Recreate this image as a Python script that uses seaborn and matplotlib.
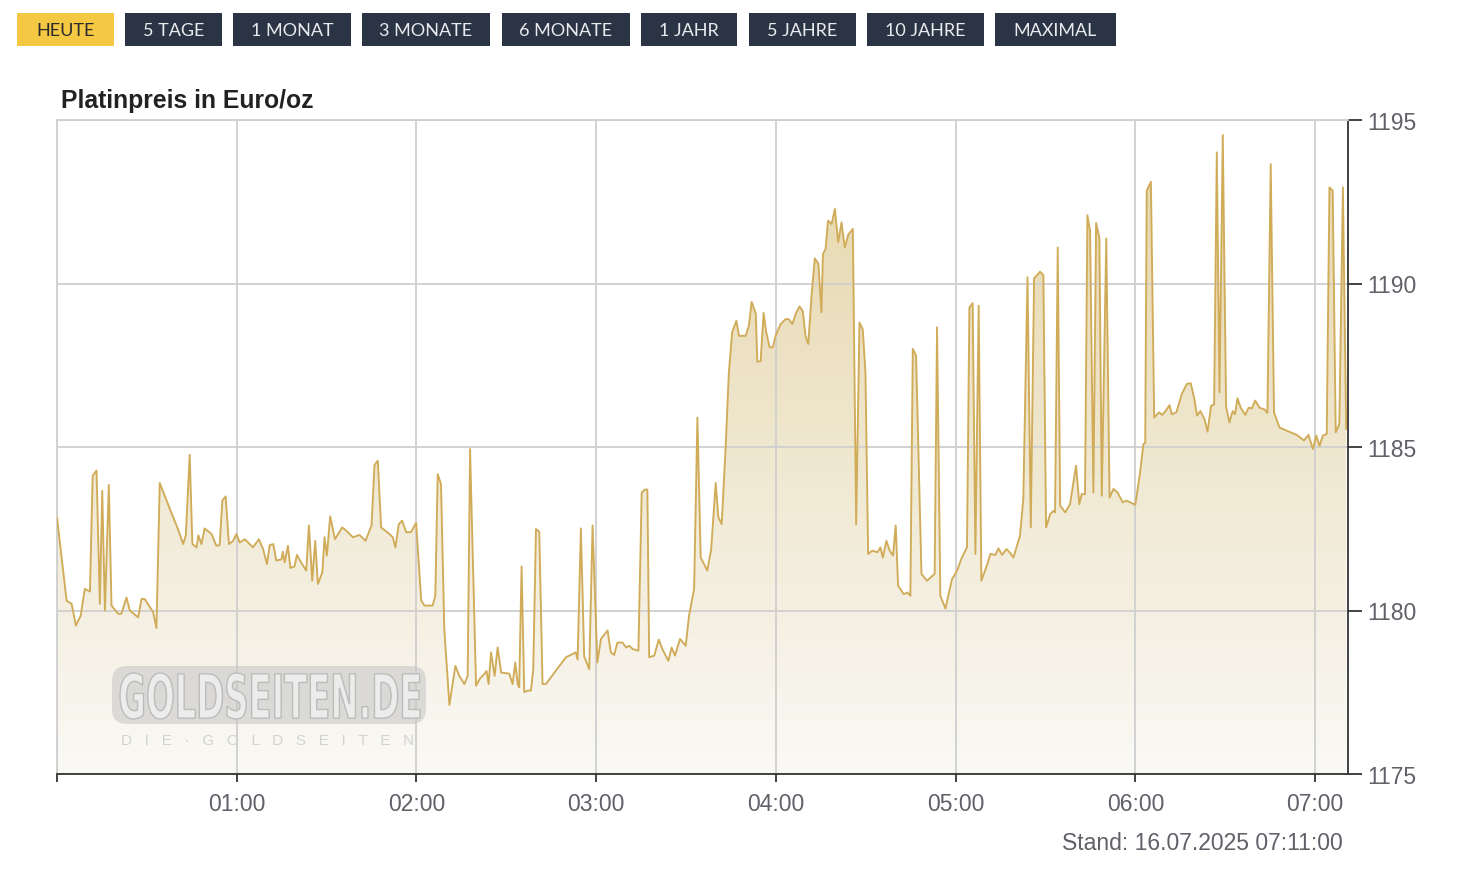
import matplotlib
matplotlib.use("Agg")
import matplotlib.pyplot as plt
import numpy as np
import pandas as pd
import seaborn as sns
from matplotlib.colors import LinearSegmentedColormap
from matplotlib.patches import FancyBboxPatch, Rectangle, PathPatch
from matplotlib.textpath import TextPath
from matplotlib.font_manager import FontProperties
from matplotlib.transforms import Affine2D

# -------------------------------
# Daten: Platinpreis heute (Minuten seit 00:00, Euro/oz)
# -------------------------------
minute = [
    0, 3.2, 4.9, 6.3, 7.9, 9.3, 11, 11.9, 13.2, 14.3, 15.1, 16, 17.3, 18.2, 20.4, 21.5,
    23.2, 24.3, 27.1, 28.2, 29.3, 32.1, 33.2, 34.3, 37.7, 40.4, 42.1, 43, 44.3, 45.2,
    46.6, 47.2, 48.2, 49.3, 51.6, 53.2, 54.3, 55.2, 56.3, 57.4, 58.8, 59.9, 61, 62.7,
    65.4, 67.4, 68.8, 70.1, 71, 72.2, 73.2, 74.9, 75.4, 76, 77.1, 77.9, 79.3, 80.1,
    81.5, 83.2, 84.1, 85.2, 86.2, 87.1, 88.6, 89.3, 90.1, 91.2, 92.8, 95.2, 96.6,
    98.8, 101, 103, 105, 106, 107.1, 108.2, 111, 112.1, 113, 114.1, 115.2, 116.6,
    118.2, 119.9, 121.6, 122.7, 125.4, 126.3, 127.1, 128.2, 129.3, 131, 133, 134.3,
    136, 137.1, 137.9, 139.9, 141.2, 142.6, 143.4, 144.1, 144.9, 146.1, 147.1, 148.3,
    151, 152.1, 153, 153.8, 154.3, 155.1, 156, 157.1, 158.2, 159, 159.9, 161, 162.1,
    163.2, 169.9, 171.5, 173.2, 173.8, 174.9, 176, 177.7, 178.8, 180.4, 181.6, 183.8,
    184.9, 186, 187.1, 188.8, 190, 191.1, 192.2, 194.1, 195.2, 196.3, 197.1, 197.7,
    199.4, 200.9, 202.2, 204.1, 205.2, 206.3, 208, 209.9, 211, 212.7, 213.8, 214.9,
    217.1, 218.4, 219.9, 220.8, 221.9, 223.2, 224.3, 225.4, 226.8, 227.7, 229.9, 231,
    231.9, 233.3, 233.8, 234.9, 235.9, 236.8, 237.9, 239, 239.9, 241.6, 243.2, 244.3,
    245.5, 246.6, 247.9, 249, 249.9, 250.8, 251.9, 253, 254.2, 255.2, 255.7, 256.6,
    257.4, 258.6, 259.7, 260.8, 261.9, 263, 264.2, 265.7, 266.8, 267.9, 269, 269.9,
    270.8, 272.2, 273.9, 274.9, 275.7, 276.9, 278, 279.1, 280, 280.8, 282.7, 283.9,
    284.9, 285.7, 286.8, 288.6, 290.4, 293, 293.8, 294.9, 296.6, 298.8, 300.4, 302.1,
    303.8, 304.6, 305.7, 306.6, 307.7, 308.6, 310.6, 311.6, 313.3, 314.3, 315.5, 317,
    318.3, 319.3, 321.5, 322.6, 324, 325.1, 326.2, 328.2, 329.3, 330.2, 331.6, 332.7,
    333.2, 334.1, 334.9, 336.6, 338.2, 340.2, 341.3, 342.1, 343.2, 344, 344.9, 346,
    346.9, 348, 348.8, 350.3, 351.4, 352.7, 354.1, 355.8, 357.1, 358.3, 360, 361.6,
    362.7, 363.3, 363.8, 365.2, 366.3, 367.9, 369, 370.1, 371.4, 372.2, 373.7, 375.5,
    377.2, 378.5, 379.7, 380.6, 381.7, 383.1, 384.1, 385.3, 386.3, 387.2, 388.1, 389.2,
    390.3, 391.4, 392.5, 393.3, 394.1, 395.2, 396.7, 397.8, 398.9, 400, 401.5, 403.1,
    404.1, 405.2, 406.3, 408.1, 410.5, 413.9, 416.3, 417.8, 419.3, 420.4, 421.5, 422.6,
    423.9, 424.8, 425.9, 426.9, 428.1, 429.3, 430.4,
]
price = [
    1182.85, 1180.3, 1180.2, 1179.54, 1179.84, 1180.66, 1180.58, 1184.12, 1184.28, 1180.2,
    1183.66, 1180.0, 1183.84, 1180.15, 1179.9, 1179.9, 1180.4, 1180.0, 1179.79, 1180.35,
    1180.35, 1179.95, 1179.46, 1183.9, 1183.1, 1182.49, 1182.03, 1182.3, 1184.76, 1182.03,
    1181.93, 1182.3, 1182.03, 1182.51, 1182.34, 1181.98, 1182.0, 1183.36, 1183.49, 1182.03,
    1182.13, 1182.34, 1182.08, 1182.18, 1181.93, 1182.18, 1181.88, 1181.42, 1182.0, 1182.03,
    1181.53, 1181.56, 1181.8, 1181.47, 1181.98, 1181.3, 1181.35, 1181.7, 1181.47, 1181.22,
    1182.6, 1180.91, 1182.13, 1180.81, 1181.17, 1182.24, 1181.68, 1182.88, 1182.18, 1182.54,
    1182.44, 1182.24, 1182.31, 1182.13, 1182.6, 1184.45, 1184.58, 1182.54, 1182.34, 1182.24,
    1181.93, 1182.64, 1182.75, 1182.39, 1182.4, 1182.68, 1180.3, 1180.15, 1180.15, 1180.45,
    1184.17, 1183.87, 1179.43, 1177.11, 1178.31, 1178.0, 1177.75, 1178.0, 1184.94, 1177.7,
    1177.92, 1178.05, 1178.15, 1177.75, 1178.72, 1178.0, 1178.87, 1178.1, 1178.07, 1177.75,
    1178.41, 1177.75, 1177.65, 1181.35, 1177.5, 1177.55, 1177.55, 1178.2, 1182.49, 1182.41,
    1177.75, 1177.75, 1178.57, 1178.64, 1178.72, 1178.5, 1182.51, 1178.6, 1178.2, 1182.6,
    1178.41, 1179.13, 1179.39, 1178.72, 1178.64, 1179.02, 1179.02, 1178.87, 1178.92, 1178.82,
    1178.77, 1183.61, 1183.7, 1183.7, 1178.57, 1178.62, 1179.11, 1178.8, 1178.46, 1178.87,
    1178.62, 1179.13, 1178.92, 1179.84, 1180.66, 1185.9, 1181.62, 1181.22, 1181.88, 1183.9,
    1182.85, 1182.64, 1184.94, 1187.28, 1188.51, 1188.86, 1188.4, 1188.4, 1188.71, 1189.44,
    1189.07, 1187.61, 1187.62, 1189.1, 1188.5, 1188.05, 1188.05, 1188.4, 1188.76, 1188.91,
    1188.91, 1188.76, 1189.07, 1189.3, 1189.15, 1188.4, 1188.15, 1189.63, 1190.77, 1190.6,
    1189.12, 1190.9, 1191.06, 1191.92, 1191.82, 1192.28, 1191.26, 1191.87, 1191.1, 1191.5,
    1191.67, 1182.64, 1188.81, 1188.6, 1187.28, 1181.73, 1181.83, 1181.78, 1181.93, 1181.62,
    1182.13, 1181.83, 1181.68, 1182.6, 1180.76, 1180.5, 1180.55, 1180.45, 1188.0, 1187.8,
    1181.12, 1180.91, 1181.12, 1188.66, 1180.45, 1180.06, 1180.96, 1181.2, 1181.62, 1181.93,
    1189.27, 1189.4, 1181.73, 1189.32, 1180.91, 1181.42, 1181.73, 1181.7, 1181.9, 1181.7,
    1181.88, 1181.75, 1181.62, 1182.29, 1183.41, 1190.19, 1182.54, 1190.16, 1190.36, 1190.26,
    1182.54, 1182.95, 1183.05, 1183.0, 1191.1, 1183.21, 1183.0, 1183.25, 1184.43, 1183.25,
    1183.56, 1183.56, 1192.09, 1191.61, 1183.61, 1191.85, 1191.4, 1183.51, 1191.38, 1183.45,
    1183.72, 1183.6, 1183.31, 1183.36, 1183.31, 1183.23, 1184.23, 1185.09, 1185.12, 1192.84,
    1193.11, 1185.9, 1186.06, 1185.98, 1186.1, 1186.28, 1186.0, 1186.06, 1186.62, 1186.93,
    1186.95, 1186.47, 1185.96, 1186.1, 1185.85, 1185.47, 1186.26, 1186.3, 1194.01, 1186.67,
    1194.54, 1186.24, 1185.75, 1186.1, 1186.0, 1186.49, 1186.2, 1185.98, 1186.2, 1186.18,
    1186.42, 1186.2, 1186.15, 1186.04, 1193.65, 1186.06, 1185.6, 1185.5, 1185.37, 1185.2,
    1185.37, 1184.94, 1185.35, 1185.03, 1185.35, 1185.4, 1192.94, 1192.84, 1185.45, 1185.7,
    1192.94, 1185.55,
]

hour_ticks = [0, 60, 120, 180, 240, 300, 360, 420]
hour_labels = ["", "01:00", "02:00", "03:00", "04:00", "05:00", "06:00", "07:00"]
price_ticks = [1175, 1180, 1185, 1190, 1195]
buttons = ["HEUTE", "5 TAGE", "1 MONAT", "3 MONATE", "6 MONATE",
           "1 JAHR", "5 JAHRE", "10 JAHRE", "MAXIMAL"]
title = "Platinpreis in Euro/oz"
stand = "Stand: 16.07.2025 07:11:00"

df = pd.DataFrame({"minute": minute, "price": price})

sns.set_theme(style="white")
plt.rcParams["font.family"] = ["Liberation Sans", "DejaVu Sans"]

W, H = 1466, 887
fig = plt.figure(figsize=(W / 100, H / 100), dpi=100)
fig.patch.set_facecolor("white")

# Plotbereich in Pixeln: x 57..1348, y 121..775
ax = fig.add_axes([57 / W, 1 - 775 / H, (1348 - 57) / W, (775 - 121) / H])
ax.set_facecolor("white")

line_color = "#d0ab58"
x_max = 431
y_min, y_max = 1175, 1195

# Verlaufsfuellung unter der Linie
poly = ax.fill_between(df["minute"], df["price"], y_min, color="none", lw=0)
fill_cmap = LinearSegmentedColormap.from_list("fill", ["#faf9f5", "#e4d3a4"])
grad = np.linspace(0, 1, 256).reshape(-1, 1)
img = ax.imshow(grad, cmap=fill_cmap, aspect="auto", origin="lower",
                extent=[0, x_max, y_min, y_max], zorder=0.3, alpha=0.95)
img.set_clip_path(poly.get_paths()[0], transform=ax.transData)

sns.lineplot(data=df, x="minute", y="price", ax=ax, color=line_color,
             lw=1.35, zorder=3)

ax.set_xlim(0, x_max)
ax.set_ylim(y_min, y_max)
ax.set_xticks(hour_ticks)
ax.set_xticklabels(hour_labels)
ax.set_yticks(price_ticks)
ax.yaxis.tick_right()
ax.set_xlabel("")
ax.set_ylabel("")
ax.grid(True, color="#cfcfcf", lw=1.3, zorder=0.5)
ax.set_axisbelow(True)

for side in ["left", "top"]:
    ax.spines[side].set_color("#cfcfcf")
    ax.spines[side].set_linewidth(1.3)
for side in ["right", "bottom"]:
    ax.spines[side].set_color("#333333")
    ax.spines[side].set_linewidth(1.3)

ax.tick_params(axis="x", bottom=True, length=6, width=1.3, color="#333333",
               labelsize=16.5, labelcolor="#606068", pad=7)
ax.tick_params(axis="y", right=True, left=False, length=10, width=1.3,
               color="#333333", labelsize=16.5, labelcolor="#606068", pad=4)

# Overlay in Pixelkoordinaten fuer Buttons, Titel, Wasserzeichen
over = fig.add_axes([0, 0, 1, 1], zorder=5)
over.set_xlim(0, W)
over.set_ylim(H, 0)
over.axis("off")
over.patch.set_alpha(0)

btn_x = [(17, 114), (125, 222), (233, 351), (362, 490), (502, 630),
         (641, 737), (749, 856), (867, 984), (995, 1116)]
for i, (name, (x0, x1)) in enumerate(zip(buttons, btn_x)):
    active = i == 0
    over.add_patch(Rectangle((x0, 14), x1 - x0, 33,
                             facecolor="#f4c842" if active else "#2b3445", lw=0))
    over.text((x0 + x1) / 2, 31.5, name, ha="center", va="center",
              fontsize=13, family=["Lato", "DejaVu Sans"],
              color="#2b2b2b" if active else "#e9ebee")

over.text(61, 101, title, ha="left", va="center", fontsize=17.8,
          fontweight="bold", color="#222222")
over.text(1343, 844, stand, ha="right", va="center", fontsize=16.5,
          color="#606068")

# Wasserzeichen GOLDSEITEN.DE
over.add_patch(FancyBboxPatch((112, 667), 314, 58,
                              boxstyle="round,pad=0,rounding_size=15",
                              facecolor="#c4c4c4", edgecolor="none", alpha=0.55))
tp = TextPath((0, 0), "GOLDSEITEN.DE", size=100,
              prop=FontProperties(family="DejaVu Sans", weight="bold"))
bb = tp.get_extents()
sx = 300 / bb.width
sy = 46 / bb.height
tr = Affine2D().translate(-bb.x0, -bb.y0).scale(sx, -sy).translate(120, 720) + over.transData
over.add_patch(PathPatch(tp, transform=tr, facecolor="#efefef",
                         edgecolor="#b8b8b8", lw=1.0, alpha=0.9))
sub = "D   I   E   ·   G   O   L   D   S   E   I   T   E   N"
over.text(268, 741, sub, ha="center", va="center", fontsize=11,
          color="#d2d2d2")

fig.savefig("out.png", dpi=100)
